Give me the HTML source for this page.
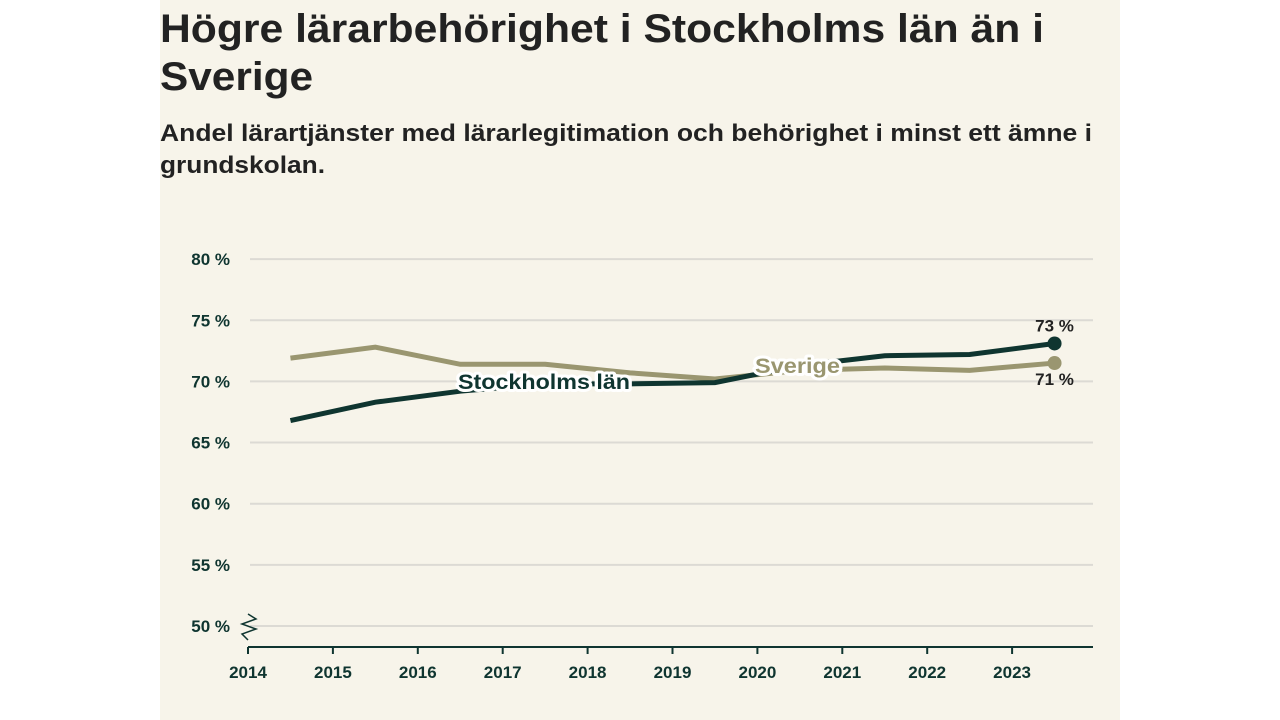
<!DOCTYPE html>
<html><head><meta charset="utf-8"><style>
html,body{margin:0;padding:0;background:#fff;}
svg{display:block;font-family:"Liberation Sans",sans-serif;}
</style></head><body>
<svg width="1280" height="720" viewBox="0 0 1280 720">
<rect x="160" y="0" width="960" height="720" fill="#f7f4ea"/>
<text x="160" y="42" font-size="40" font-weight="bold" fill="#222" textLength="884" lengthAdjust="spacingAndGlyphs">Högre lärarbehörighet i Stockholms län än i</text>
<text x="160" y="90" font-size="40" font-weight="bold" fill="#222" textLength="153" lengthAdjust="spacingAndGlyphs">Sverige</text>
<text x="160" y="141" font-size="24" font-weight="bold" fill="#222" textLength="932" lengthAdjust="spacingAndGlyphs">Andel lärartjänster med lärarlegitimation och behörighet i minst ett ämne i</text>
<text x="160" y="173" font-size="24" font-weight="bold" fill="#222" textLength="165" lengthAdjust="spacingAndGlyphs">grundskolan.</text>
<g id="plot"></g>
</svg>
<script>
const years=[2014,2015,2016,2017,2018,2019,2020,2021,2022,2023];
const yTicks=[50,55,60,65,70,75,80];
const xPos=[2014.5,2015.5,2016.5,2017.5,2018.5,2019.5,2020.5,2021.5,2022.5,2023.5];
const stockholm=[66.8,68.3,69.2,69.8,69.8,69.9,71.3,72.1,72.2,73.1];
const sverige=[71.9,72.8,71.4,71.4,70.7,70.2,70.9,71.1,70.9,71.5];
const endLabels=['73 %','71 %'];
const NS='http://www.w3.org/2000/svg';
const g=document.getElementById('plot');
const X=v=>248+(v-2014)*84.9;
const Y=v=>626-(v-50)*12.23;
function mk(t,a){const e=document.createElementNS(NS,t);for(const k in a)e.setAttribute(k,a[k]);g.appendChild(e);return e;}
yTicks.forEach(t=>{
 const l=mk('line',{x1:250,x2:1093,y1:Y(t),y2:Y(t),stroke:'#dcdad4','stroke-width':2});
 
 
 const tx=mk('text',{x:230,y:Y(t)+6,'font-size':17,'font-weight':'bold',fill:'#0f3530','text-anchor':'end'});
 tx.textContent=t+' %';
 
 
});
const brk=mk('path',{d:'M248 614 L256 619 L242 624 L256 629 L242 634 L248 640',fill:'none',stroke:'#0f3530','stroke-width':1.5});


const ax=mk('line',{x1:248,x2:1093,y1:647,y2:647,stroke:'#0f3530','stroke-width':2});


years.forEach(yr=>{
 const t=mk('line',{x1:X(yr),x2:X(yr),y1:647,y2:654,stroke:'#0f3530','stroke-width':2});
 
 
 const tx=mk('text',{x:X(yr),y:678,'font-size':17,'font-weight':'bold',fill:'#0f3530','text-anchor':'middle'});
 tx.textContent=yr;
 
 
});
function series(vals,col,name){
 const p=mk('polyline',{points:vals.map((v,i)=>X(xPos[i])+','+Y(v)).join(' '),fill:'none',stroke:col,'stroke-width':5});
 
 
 const n=vals.length-1;
 const c=mk('circle',{cx:X(xPos[n]),cy:Y(vals[n]),r:7,fill:col});
 
 
}
series(sverige,'#9a9670','sverige');
series(stockholm,'#0f3530','stockholm');
function label(txt,x,y,col,name,w){
 const h=mk('text',{x:x,y:y,'font-size':21,'font-weight':'bold',fill:'#fff',stroke:'#fff','stroke-width':6,'stroke-linejoin':'round',textLength:w,lengthAdjust:'spacingAndGlyphs'});
 h.textContent=txt;
 
 
 const t=mk('text',{x:x,y:y,'font-size':21,'font-weight':'bold',fill:col,textLength:w,lengthAdjust:'spacingAndGlyphs'});
 t.textContent=txt;
 
 
}
label('Stockholms län',458,389,'#0f3530','stockholm-label',172);
label('Sverige',755,373,'#9a9670','sverige-label',85);
const e1=mk('text',{x:X(xPos[9]),y:Y(stockholm[9])-12,'font-size':17,'font-weight':'bold',fill:'#222','text-anchor':'middle'});
e1.textContent=endLabels[0];


const e2=mk('text',{x:X(xPos[9]),y:Y(sverige[9])+22,'font-size':17,'font-weight':'bold',fill:'#222','text-anchor':'middle'});
e2.textContent=endLabels[1];


</script>
</body></html>
